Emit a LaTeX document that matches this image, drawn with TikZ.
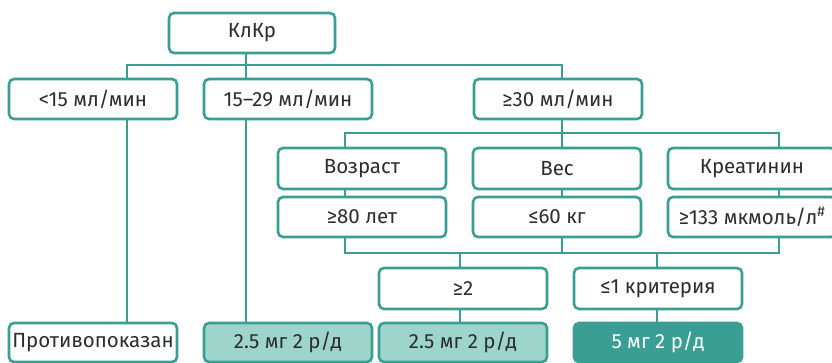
\documentclass[tikz,border=0pt]{standalone}
\usepackage{fontspec}
\setmainfont{Fira Sans}
\definecolor{teal1}{RGB}{58,158,148}
\definecolor{tealL}{RGB}{157,213,202}
\definecolor{txt}{RGB}{45,45,45}
\begin{document}
\begin{tikzpicture}[x=1pt,y=-1pt,
  box/.style={draw=teal1,line width=2.6pt,rounded corners=5pt,fill=white,
    minimum width=168pt,minimum height=40pt,inner sep=0pt,text=txt,
    font=\fontsize{20.5}{24}\selectfont},
  boxL/.style={box,fill=tealL},
  boxD/.style={box,fill=teal1,text=white},
  con/.style={draw=teal1,line width=2.6pt}]
\useasboundingbox (0,0) rectangle (832,363);
\clip (0,0) rectangle (832,363);
% x-positions of connectors
\coordinate (xa) at (127,0);
\coordinate (xb) at (246,0);
\coordinate (xc) at (562,0);
\coordinate (xd) at (345,0);
\coordinate (xe) at (779,0);
\coordinate (xf) at (460,0);
\coordinate (xg) at (657,0);
\coordinate (bus1) at (0,65);
\coordinate (bus2) at (0,133);
\coordinate (bus3) at (0,253);
% nodes
\node[box,minimum width=166pt] (klkr) at (252,33) {КлКр};
\node[box] (b1) at (93,99) {<15 мл/мин};
\node[box] (b2) at (288,99) {15–29 мл/мин};
\node[box] (b3) at (558,99) {≥30 мл/мин};
\node[box,minimum height=41pt] (age) at (362,168.5) {Возраст};
\node[box,minimum height=41pt] (wt) at (557,168.5) {Вес};
\node[box,minimum height=41pt] (cr) at (752,168.5) {Креатинин};
\node[box] (age2) at (362,217) {≥80 лет};
\node[box] (wt2) at (557,217) {≤60 кг};
\node[box] (cr2) at (752,217) {≥133 мкмоль/л\textsuperscript{\#}};
\node[box,minimum height=41pt] (g2) at (463,288.5) {≥2};
\node[box,minimum height=41pt] (l1) at (658,288.5) {≤1 критерия};
\node[box,minimum height=39pt] (r1) at (93,342.5) {Противопоказан};
\node[boxL,minimum height=39pt] (r2) at (288,342.5) {2.5 мг 2 р/д};
\node[boxL,minimum height=39pt] (r3) at (463,342.5) {2.5 мг 2 р/д};
\node[boxD,minimum height=39pt] (r4) at (658,342.5) {5 мг 2 р/д};
% connectors
\draw[con] (klkr.south -| xb) -- (bus1 -| xb);
\draw[con] (b1.north -| xa) -- (bus1 -| xa) -- (bus1 -| xc) -- (b3.north -| xc);
\draw[con] (bus1 -| xb) -- (b2.north -| xb);
\draw[con] (b1.south -| xa) -- (r1.north -| xa);
\draw[con] (b2.south -| xb) -- (r2.north -| xb);
\draw[con] (b3.south -| xc) -- (bus2 -| xc);
\draw[con] (age.north -| xd) -- (bus2 -| xd) -- (bus2 -| xe) -- (cr.north -| xe);
\draw[con] (bus2 -| xc) -- (wt.north -| xc);
\draw[con] (age.south -| xd) -- (age2.north -| xd);
\draw[con] (wt.south -| xc) -- (wt2.north -| xc);
\draw[con] (cr.south -| xe) -- (cr2.north -| xe);
\draw[con] (age2.south -| xd) -- (bus3 -| xd) -- (bus3 -| xe) -- (cr2.south -| xe);
\draw[con] (wt2.south -| xc) -- (bus3 -| xc);
\draw[con] (bus3 -| xf) -- (g2.north -| xf);
\draw[con] (bus3 -| xg) -- (l1.north -| xg);
\draw[con] (g2.south -| xf) -- (r3.north -| xf);
\draw[con] (l1.south -| xg) -- (r4.north -| xg);
\end{tikzpicture}
\end{document}
